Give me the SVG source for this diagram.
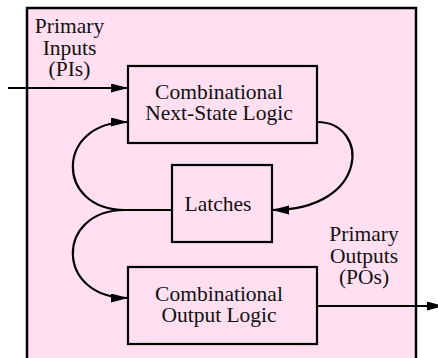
<svg xmlns="http://www.w3.org/2000/svg" width="438" height="358" viewBox="0 0 438 358">
<style>
.box{fill:#ffdff0;stroke:#000;stroke-width:2.2}
.wire{fill:none;stroke:#000;stroke-width:2.2}
text{font-family:"Liberation Serif","Times New Roman",serif;font-size:21.5px;fill:#111;text-anchor:middle}
</style>
<defs>
<marker id="ah" markerUnits="userSpaceOnUse" markerWidth="18" markerHeight="10" refX="17" refY="4.5" orient="auto">
<path d="M0,0 L17,4.5 L0,9 z" fill="#000"/>
</marker>
</defs>
<rect width="438" height="358" fill="#fff"/>
<g id="system">
<rect x="27" y="8" width="389" height="360" fill="#ffdff0" stroke="#000" stroke-width="2.5"/>
</g>
<g id="next-state">
<rect class="box" x="128" y="66" width="189" height="77"/>
<text x="219" y="98.5">Combinational</text>
<text x="219" y="120">Next-State Logic</text>
</g>
<g id="latches">
<rect class="box" x="172" y="165" width="100" height="77"/>
<text x="218" y="211">Latches</text>
</g>
<g id="output-logic">
<rect class="box" x="128" y="267" width="189" height="77"/>
<text x="219" y="300.5">Combinational</text>
<text x="219" y="322">Output Logic</text>
</g>
<g id="labels">
<text x="69.5" y="33">Primary</text>
<text x="69.5" y="54.5">Inputs</text>
<text x="69.5" y="76">(PIs)</text>
<text x="364" y="241">Primary</text>
<text x="364" y="262.5">Outputs</text>
<text x="364" y="284">(POs)</text>
</g>
<g id="connectors">
<path class="wire" d="M8 88 L128 88" marker-end="url(#ah)"/>
<path class="wire" d="M172 210 L125 210 C55 210 55 122 128 122" marker-end="url(#ah)"/>
<path class="wire" d="M125 210 C55 210 55 298 128 298" marker-end="url(#ah)"/>
<path class="wire" d="M317 122 C370 122 370 210 272 210" marker-end="url(#ah)"/>
<path class="wire" d="M317 306 L444 306" marker-end="url(#ah)"/>
</g>
</svg>
